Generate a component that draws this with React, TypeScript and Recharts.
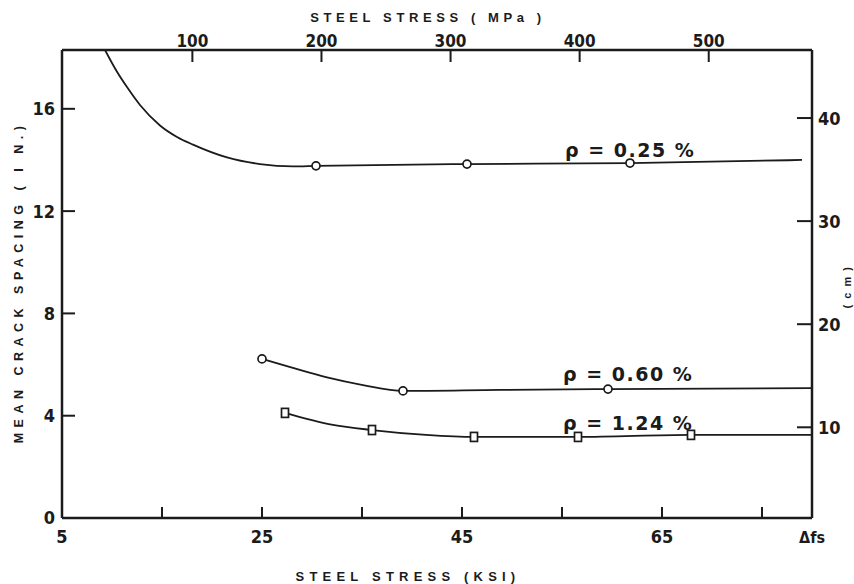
import React from 'react';
import { ComposedChart, Line, XAxis, YAxis, Label, ReferenceDot } from 'recharts';

const INK = '#1b1b1b';

// axes
const KSI_TICKS = [5, 15, 25, 35, 45, 55, 65, 75, 80];
const KSI_LABELS: Record<number, string> = { 5: '5', 25: '25', 45: '45', 65: '65', 80: 'Δfs' };
const MPA_TICKS = [100, 200, 300, 400, 500];
const IN_TICKS = [0, 4, 8, 12, 16];
const CM_TICKS = [10, 20, 30, 40];

const KSI_DOMAIN = [5, 80];
const MPA_DOMAIN = [-1, 580];
const IN_DOMAIN = [0, 18.3];
const CM_DOMAIN = [1.2, 46.6];

// faired curves [ksi, in] and test points (drawn with markers)
const RHO_025_CURVE = [
  [9.3, 18.3], [10.5, 17.45], [11.5, 16.85], [12.8, 16.15], [14.8, 15.35], [16.5, 14.9],
  [18.1, 14.6], [21.5, 14.1], [24.8, 13.84], [28.1, 13.75], [79, 14.0],
];
const RHO_025_TESTS = [[30.4, 13.77], [45.5, 13.84], [61.8, 13.88]];

const RHO_060_CURVE = [[28.0, 5.88], [31.5, 5.5], [35.1, 5.2], [48.8, 5.01], [80, 5.08]];
const RHO_060_TESTS = [[25.0, 6.22], [39.1, 4.97], [59.6, 5.04]];

const RHO_124_CURVE = [[32.1, 3.64], [41.4, 3.25], [80, 3.25]];
const RHO_124_TESTS = [[27.3, 4.11], [36.0, 3.44], [46.2, 3.17], [56.6, 3.17], [67.9, 3.25]];

const CURVE_LABELS = [
  { text: 'ρ = 0.25 %', ksi: 55.3, inch: 14.12 },
  { text: 'ρ = 0.60 %', ksi: 55.1, inch: 5.36 },
  { text: 'ρ = 1.24 %', ksi: 55.1, inch: 3.44 },
];

const build = (curve: number[][], tests: number[][]) =>
  [
    ...curve.map(([x, y]) => ({ x, y, m: false })),
    ...tests.map(([x, y]) => ({ x, y, m: true })),
  ].sort((a, b) => a.x - b.x);

const d025 = build(RHO_025_CURVE, RHO_025_TESTS);
const d060 = build(RHO_060_CURVE, RHO_060_TESTS);
const d124 = build(RHO_124_CURVE, RHO_124_TESTS);
const mpaAnchor = MPA_TICKS.map((x) => ({ x }));

const numFont = "'Liberation Sans Narrow', 'DejaVu Sans Condensed', sans-serif";
const numStyle = { fontFamily: numFont, fontWeight: 700, fontSize: 18, fill: INK };
const titleStyle = {
  fontFamily: "'Liberation Sans', Arial, sans-serif",
  fontWeight: 700,
  fontSize: 13,
  letterSpacing: 5,
  fill: INK,
};

const circleDot = (p: any) =>
  p.payload.m ? (
    <circle key={p.index} cx={p.cx} cy={p.cy} r={4} fill="#fff" stroke={INK} strokeWidth={1.7} />
  ) : (
    <g key={p.index} />
  );

const squareDot = (p: any) =>
  p.payload.m ? (
    <rect key={p.index} x={p.cx - 3.5} y={p.cy - 4.5} width={7} height={9} fill="#fff" stroke={INK} strokeWidth={1.7} />
  ) : (
    <g key={p.index} />
  );

const BottomTick = ({ x, y, payload }: any) => {
  const v = payload.value;
  const edge = v === KSI_DOMAIN[0] || v === KSI_DOMAIN[1];
  return (
    <g>
      {!edge && <line x1={x} x2={x} y1={y} y2={y - 11} stroke={INK} strokeWidth={2} />}
      {KSI_LABELS[v] && (
        <text x={x} y={y + 25} textAnchor="middle" style={v === 80 ? { ...numStyle, fontSize: 16 } : numStyle}>
          {KSI_LABELS[v]}
        </text>
      )}
    </g>
  );
};

const TopTick = ({ x, y, payload }: any) => (
  <g>
    <line x1={x} x2={x} y1={y} y2={y + 12} stroke={INK} strokeWidth={2} />
    <text x={x} y={y - 3} textAnchor="middle" style={{ ...numStyle, fontSize: 17 }}>
      {payload.value}
    </text>
  </g>
);

const LeftTick = ({ x, y, payload }: any) => (
  <g>
    {payload.value !== 0 && <line x1={x} x2={x + 13} y1={y} y2={y} stroke={INK} strokeWidth={2} />}
    <text x={x - 7} y={y} dy="0.36em" textAnchor="end" style={numStyle}>
      {payload.value}
    </text>
  </g>
);

const RightTick = ({ x, y, payload }: any) => (
  <g>
    <line x1={x} x2={x - 15} y1={y} y2={y} stroke={INK} strokeWidth={2} />
    <text x={x + 6} y={y} dy="0.36em" textAnchor="start" style={numStyle}>
      {payload.value}
    </text>
  </g>
);

const LeftTitle = ({ viewBox }: any) => {
  const cx = viewBox.x + 18;
  const cy = viewBox.y + viewBox.height / 2 - 2;
  return (
    <text x={cx} y={cy} dy="0.36em" transform={`rotate(-90 ${cx} ${cy})`} textAnchor="middle" style={{ ...titleStyle, fontSize: 12.5, letterSpacing: 5.5 }}>
      MEAN CRACK SPACING ( I N.)
    </text>
  );
};

const RightTitle = ({ viewBox }: any) => {
  const cx = viewBox.x + 35;
  const cy = viewBox.y + viewBox.height / 2 + 3;
  return (
    <text x={cx} y={cy} dy="0.36em" transform={`rotate(-90 ${cx} ${cy})`} textAnchor="middle" style={{ ...titleStyle, fontSize: 11, letterSpacing: 1.5 }}>
      ( c m )
    </text>
  );
};

const TopTitle = ({ viewBox }: any) => (
  <text x={viewBox.x + viewBox.width / 2 - 9} y={22} textAnchor="middle" style={{ ...titleStyle, letterSpacing: 4.6 }}>
    STEEL STRESS ( MPa )
  </text>
);

const BottomTitle = ({ viewBox }: any) => (
  <text x={viewBox.x + viewBox.width / 2 - 29} y={viewBox.y + 63} textAnchor="middle" style={{ ...titleStyle, letterSpacing: 5.2 }}>
    STEEL STRESS (KSI)
  </text>
);

const CurveLabel = (text: string) => (p: any) => (
  <text
    x={p.cx}
    y={p.cy}
    style={{ fontFamily: "'DejaVu Sans', sans-serif", fontWeight: 700, fontSize: 19, letterSpacing: 1.5, fill: INK }}
  >
    {text}
  </text>
);

const axisLine = { stroke: INK, strokeWidth: 2.5 };

export default function App() {
  return (
    <div style={{ position: 'absolute', left: 0, top: 0, width: 854, height: 584, background: '#fff' }}>
      <ComposedChart width={854} height={584} margin={{ top: 0, right: 0, bottom: 0, left: 0 }}>
        <XAxis
          xAxisId="ksi"
          dataKey="x"
          type="number"
          domain={KSI_DOMAIN}
          ticks={KSI_TICKS}
          allowDataOverflow
          height={66}
          axisLine={axisLine}
          tickLine={false}
          tickSize={0}
          tickMargin={0}
          tick={<BottomTick />}
          interval={0}
        >
          <Label content={<BottomTitle />} />
        </XAxis>
        <XAxis
          xAxisId="mpa"
          dataKey="x"
          orientation="top"
          type="number"
          domain={MPA_DOMAIN}
          ticks={MPA_TICKS}
          allowDataOverflow
          height={50}
          axisLine={axisLine}
          tickLine={false}
          tickSize={0}
          tickMargin={0}
          tick={<TopTick />}
          interval={0}
        >
          <Label content={<TopTitle />} />
        </XAxis>
        <YAxis
          yAxisId="in"
          dataKey="y"
          type="number"
          domain={IN_DOMAIN}
          ticks={IN_TICKS}
          allowDataOverflow
          width={62}
          axisLine={axisLine}
          tickLine={false}
          tickSize={0}
          tickMargin={0}
          tick={<LeftTick />}
          interval={0}
        >
          <Label content={<LeftTitle />} />
        </YAxis>
        <YAxis
          yAxisId="cm"
          orientation="right"
          type="number"
          domain={CM_DOMAIN}
          ticks={CM_TICKS}
          allowDataOverflow
          width={42}
          axisLine={axisLine}
          tickLine={false}
          tickSize={0}
          tickMargin={0}
          tick={<RightTick />}
          interval={0}
        >
          <Label content={<RightTitle />} />
        </YAxis>

        {/* empty series so the MPa axis gets its scale */}
        <Line xAxisId="mpa" yAxisId="cm" data={mpaAnchor} dataKey="y" stroke="none" dot={false} activeDot={false} isAnimationActive={false} />

        <Line xAxisId="ksi" yAxisId="in" data={d025} dataKey="y" type="monotone" stroke={INK} strokeWidth={1.8} dot={circleDot} activeDot={false} isAnimationActive={false} />
        <Line xAxisId="ksi" yAxisId="in" data={d060} dataKey="y" type="monotone" stroke={INK} strokeWidth={1.8} dot={circleDot} activeDot={false} isAnimationActive={false} />
        <Line xAxisId="ksi" yAxisId="in" data={d124} dataKey="y" type="monotone" stroke={INK} strokeWidth={1.8} dot={squareDot} activeDot={false} isAnimationActive={false} />

        {CURVE_LABELS.map((l) => (
          <ReferenceDot key={l.text} xAxisId="ksi" yAxisId="in" x={l.ksi} y={l.inch} r={0} shape={CurveLabel(l.text)} />
        ))}
      </ComposedChart>
    </div>
  );
}
